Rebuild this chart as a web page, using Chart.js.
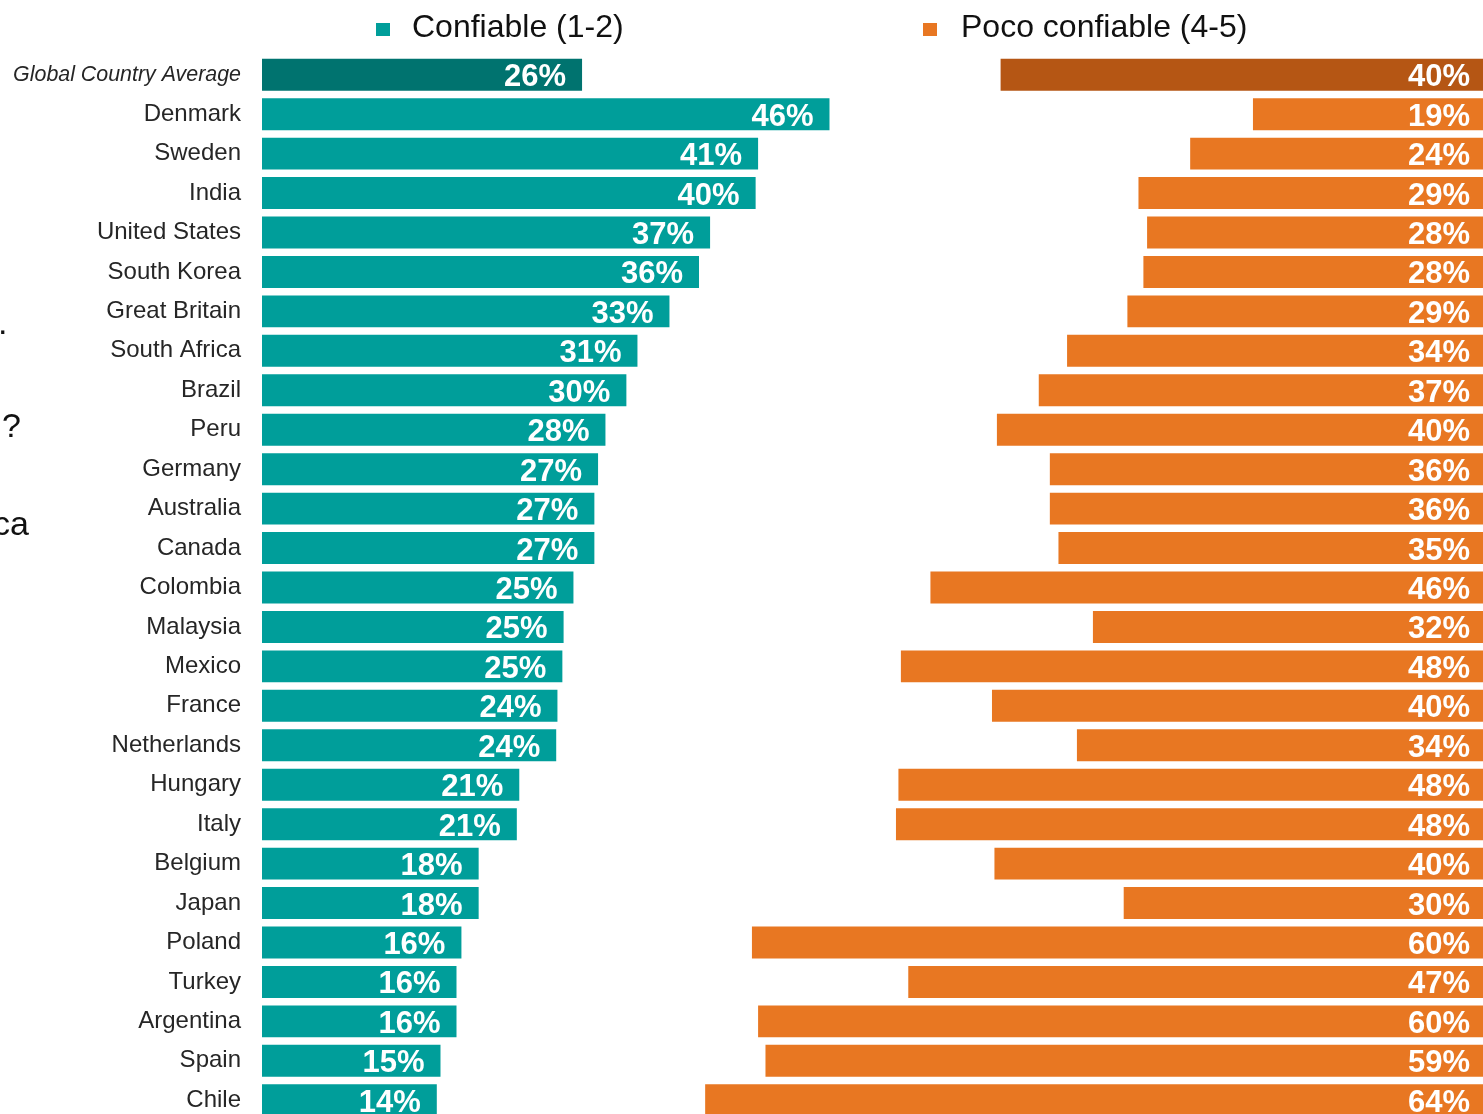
<!DOCTYPE html>
<html>
<head>
<meta charset="utf-8">
<title>Confiable / Poco confiable</title>
<script src="https://cdn.jsdelivr.net/npm/chart.js@4.4.1/dist/chart.umd.min.js"></script>
<style>
  html, body { margin: 0; padding: 0; background: #fff; overflow: hidden; }
  #wrap { position: relative; width: 1493px; height: 1120px; }
  #trust-chart { position: absolute; left: 0; top: 0; }
  .frag { position: absolute; font: 34px "Liberation Sans", Arial, sans-serif; line-height: 34px; color: #111; white-space: nowrap; }
  .legtxt { position: absolute; top: 10px; font: 32px "Liberation Sans", Arial, sans-serif; line-height: 32px; color: #111; white-space: nowrap; }
  .legbox { position: absolute; top: 23px; width: 14px; height: 13px; }
</style>
</head>
<body>
<div id="wrap">
  <canvas id="trust-chart" width="1493" height="1120"></canvas>
  <div class="legbox" style="left:376px; background:#009E9A;"></div>
  <div class="legtxt" style="left:412px;">Confiable (1-2)</div>
  <div class="legbox" style="left:923px; background:#E87722;"></div>
  <div class="legtxt" style="left:961px;">Poco confiable (4-5)</div>
  <div class="frag" style="left:-2px; top:305px;">.</div>
  <div class="frag" style="left:2px; top:408px;">?</div>
  <div class="frag" style="left:-7px; top:506px;">ca</div>
</div>
<script>
var countries = ["Global Country Average", "Denmark", "Sweden", "India", "United States", "South Korea",
    "Great Britain", "South Africa", "Brazil", "Peru", "Germany", "Australia", "Canada", "Colombia",
    "Malaysia", "Mexico", "France", "Netherlands", "Hungary", "Italy", "Belgium", "Japan", "Poland",
    "Turkey", "Argentina", "Spain", "Chile"];

// bar lengths
var trustValues = [26.0, 46.1, 40.3, 40.1, 36.4, 35.5, 33.1, 30.5, 29.6, 27.9, 27.3, 27.0, 27.0, 25.3,
    24.5, 24.4, 24.0, 23.9, 20.9, 20.7, 17.6, 17.6, 16.2, 15.8, 15.8, 14.5, 14.2];
var distrustValues = [40.0, 19.5, 24.6, 28.8, 28.1, 28.4, 29.7, 34.6, 36.9, 40.3, 36.0, 36.0, 35.3, 45.7,
    32.5, 48.1, 40.7, 33.8, 48.3, 48.5, 40.5, 30.0, 60.2, 47.5, 59.7, 59.1, 64.0];

// printed percentages
var trustLabels = [26, 46, 41, 40, 37, 36, 33, 31, 30, 28, 27, 27, 27, 25, 25, 25, 24, 24, 21, 21, 18, 18, 16, 16, 16, 15, 14];
var distrustLabels = [40, 19, 24, 29, 28, 28, 29, 34, 37, 40, 36, 36, 35, 46, 32, 48, 40, 34, 48, 48, 40, 30, 60, 47, 60, 59, 64];

var font = '"Liberation Sans", Arial, sans-serif';

var barText = {
    id: 'barText',
    afterDatasetsDraw: function(chart) {
        var ctx = chart.ctx;
        ctx.save();
        ctx.font = 'bold 31px ' + font;
        ctx.fillStyle = '#fff';
        ctx.textAlign = 'right';
        ctx.textBaseline = 'middle';
        chart.data.datasets.forEach(function(ds, i) {
            var meta = chart.getDatasetMeta(i);
            meta.data.forEach(function(bar, j) {
                var x = i === 0 ? bar.x - 16 : bar.base - 23;
                ctx.fillText(ds.printed[j] + '%', x, bar.y + 3);
            });
        });
        ctx.restore();
    }
};

var ctx = document.getElementById("trust-chart").getContext('2d');
new Chart(ctx, {
    type: 'bar',
    data: {
        labels: countries,
        datasets: [{
            label: "Confiable (1-2)",
            data: trustValues,
            printed: trustLabels,
            xAxisID: 'x',
            backgroundColor: function(c) { return c.dataIndex === 0 ? '#00736F' : '#009E9A'; },
            grouped: false,
            categoryPercentage: 1,
            barPercentage: 0.81
        }, {
            label: "Poco confiable (4-5)",
            data: distrustValues,
            printed: distrustLabels,
            xAxisID: 'x2',
            backgroundColor: function(c) { return c.dataIndex === 0 ? '#B55614' : '#E87722'; },
            grouped: false,
            categoryPercentage: 1,
            barPercentage: 0.81
        }]
    },
    options: {
        indexAxis: 'y',
        responsive: false,
        animation: false,
        layout: { padding: { top: 55, left: 0, right: 0, bottom: 0 } },
        plugins: {
            legend: { display: false },
            tooltip: { enabled: false }
        },
        scales: {
            x: { type: 'linear', display: false, min: 0, max: 100 },
            x2: { type: 'linear', display: false, min: 0, max: 100, reverse: true },
            y: {
                grid: { display: false, drawTicks: false },
                border: { display: false },
                ticks: {
                    padding: 21,
                    color: '#262626',
                    font: function(c) {
                        return c.index === 0
                            ? { family: font, size: 21.4, style: 'italic' }
                            : { family: font, size: 24 };
                    }
                },
                afterFit: function(scale) {
                    scale.width = 262;
                    // the last row runs off the bottom edge, so no room kept for its label
                    scale.paddingTop = 0;
                    scale.paddingBottom = 0;
                }
            }
        }
    },
    plugins: [barText]
});
</script>
</body>
</html>
